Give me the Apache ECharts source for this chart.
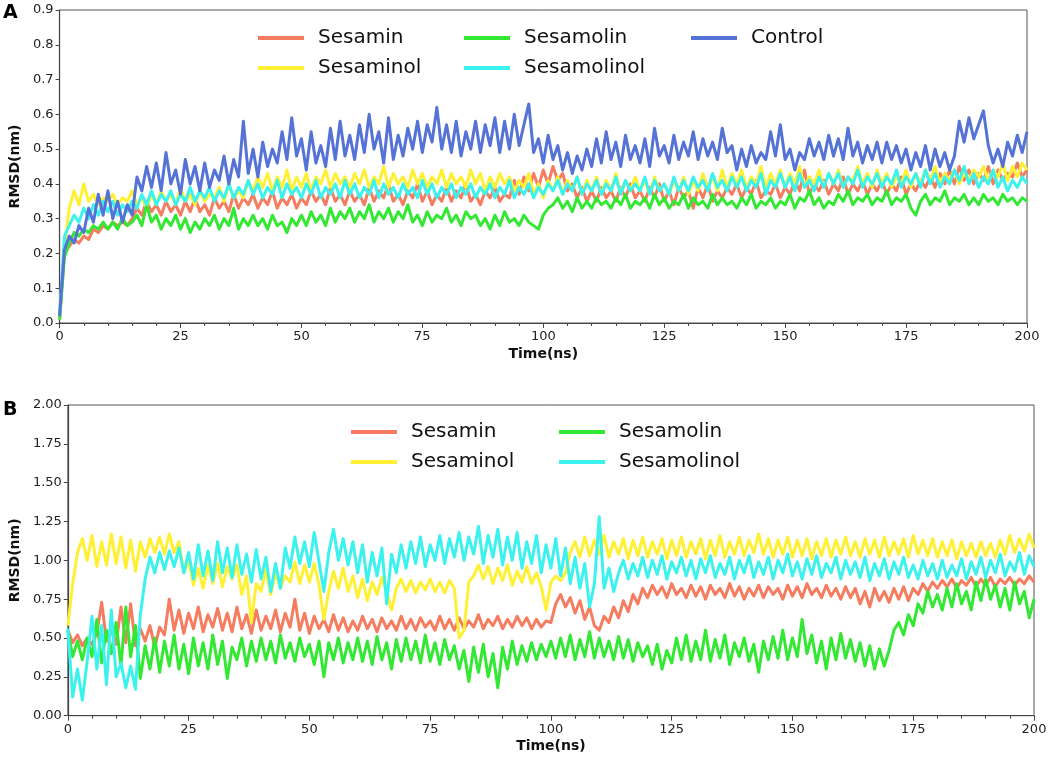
<!DOCTYPE html>
<html>
<head>
<meta charset="utf-8">
<title>RMSD</title>
<script src="https://cdn.jsdelivr.net/npm/echarts@6/dist/echarts.min.js"></script>
<style>
  html, body { margin: 0; padding: 0; background: #fff; }
  #chart { width: 1052px; height: 765px; }
</style>
</head>
<body>
<div id="chart"></div>
<script>
// sampling grid, 1 ns steps
var timeNs = [];
for (var t = 0; t <= 200; t++) timeNs.push(t);

var xTicks = [0, 25, 50, 75, 100, 125, 150, 175, 200];
var yTicksA = [0.0, 0.1, 0.2, 0.3, 0.4, 0.5, 0.6, 0.7, 0.8, 0.9];
var yTicksB = [0.00, 0.25, 0.50, 0.75, 1.00, 1.25, 1.50, 1.75, 2.00];

var namesA = ["Sesamin", "Sesaminol", "Sesamolin", "Sesamolinol", "Control"];
var namesB = ["Sesamin", "Sesaminol", "Sesamolin", "Sesamolinol"];

// panel A (nm)
var aSesamin = [
  0.01, 0.20, 0.22, 0.24, 0.23, 0.25, 0.24, 0.27, 0.26, 0.28,
  0.27, 0.29, 0.28, 0.29, 0.28, 0.30, 0.33, 0.31, 0.35, 0.32,
  0.34, 0.31, 0.35, 0.32, 0.34, 0.31, 0.35, 0.32, 0.36, 0.32,
  0.34, 0.31, 0.36, 0.33, 0.35, 0.32, 0.37, 0.33, 0.36, 0.34,
  0.37, 0.33, 0.36, 0.34, 0.38, 0.33, 0.36, 0.34, 0.37, 0.33,
  0.36, 0.34, 0.38, 0.35, 0.37, 0.34, 0.39, 0.35, 0.37, 0.34,
  0.38, 0.35, 0.37, 0.34, 0.39, 0.35, 0.38, 0.36, 0.40, 0.35,
  0.37, 0.34, 0.38, 0.36, 0.40, 0.35, 0.38, 0.34, 0.37, 0.35,
  0.39, 0.35, 0.38, 0.36, 0.40, 0.35, 0.37, 0.34, 0.38, 0.36,
  0.39, 0.35, 0.37, 0.36, 0.41, 0.37, 0.42, 0.38, 0.43, 0.39,
  0.44, 0.40, 0.45, 0.41, 0.43, 0.38, 0.40, 0.36, 0.39, 0.35,
  0.38, 0.35, 0.39, 0.36, 0.38, 0.35, 0.39, 0.36, 0.40, 0.36,
  0.38, 0.35, 0.39, 0.36, 0.40, 0.35, 0.38, 0.34, 0.39, 0.36,
  0.38, 0.33, 0.39, 0.36, 0.40, 0.35, 0.38, 0.36, 0.39, 0.37,
  0.40, 0.36, 0.39, 0.37, 0.41, 0.36, 0.38, 0.37, 0.40, 0.36,
  0.39, 0.37, 0.41, 0.38, 0.44, 0.37, 0.40, 0.38, 0.41, 0.37,
  0.40, 0.38, 0.42, 0.37, 0.40, 0.38, 0.41, 0.37, 0.40, 0.38,
  0.41, 0.37, 0.40, 0.38, 0.42, 0.37, 0.40, 0.38, 0.41, 0.39,
  0.42, 0.39, 0.43, 0.40, 0.44, 0.40, 0.45, 0.41, 0.44, 0.40,
  0.43, 0.41, 0.45, 0.40, 0.44, 0.41, 0.43, 0.42, 0.46, 0.42,
  0.44
];
var aSesaminol = [
  0.01, 0.22, 0.33, 0.38, 0.34, 0.40, 0.35, 0.37, 0.34, 0.36,
  0.35, 0.37, 0.34, 0.36, 0.35, 0.38, 0.34, 0.36, 0.33, 0.37,
  0.34, 0.38, 0.35, 0.37, 0.34, 0.39, 0.35, 0.37, 0.34, 0.38,
  0.35, 0.37, 0.36, 0.39, 0.35, 0.40, 0.36, 0.38, 0.36, 0.41,
  0.38, 0.42, 0.39, 0.43, 0.38, 0.42, 0.39, 0.44, 0.38, 0.42,
  0.39, 0.43, 0.38, 0.42, 0.40, 0.44, 0.39, 0.43, 0.40, 0.42,
  0.39, 0.43, 0.40, 0.44, 0.39, 0.42, 0.40, 0.45, 0.39, 0.43,
  0.40, 0.42, 0.39, 0.44, 0.40, 0.43, 0.39, 0.42, 0.40, 0.44,
  0.39, 0.43, 0.40, 0.42, 0.39, 0.44, 0.40, 0.43, 0.38, 0.42,
  0.39, 0.43, 0.40, 0.42, 0.38, 0.41, 0.39, 0.43, 0.37, 0.40,
  0.36, 0.41, 0.38, 0.42, 0.37, 0.41, 0.38, 0.42, 0.37, 0.41,
  0.38, 0.42, 0.37, 0.41, 0.38, 0.43, 0.37, 0.41, 0.38, 0.42,
  0.38, 0.41, 0.37, 0.42, 0.38, 0.40, 0.37, 0.41, 0.38, 0.42,
  0.37, 0.41, 0.38, 0.43, 0.39, 0.42, 0.38, 0.44, 0.39, 0.43,
  0.40, 0.44, 0.39, 0.42, 0.40, 0.45, 0.39, 0.43, 0.40, 0.44,
  0.39, 0.43, 0.40, 0.45, 0.39, 0.42, 0.40, 0.44, 0.39, 0.43,
  0.40, 0.44, 0.39, 0.42, 0.41, 0.45, 0.40, 0.43, 0.39, 0.44,
  0.40, 0.43, 0.39, 0.42, 0.40, 0.44, 0.39, 0.43, 0.40, 0.44,
  0.41, 0.45, 0.40, 0.43, 0.41, 0.44, 0.40, 0.43, 0.41, 0.44,
  0.42, 0.45, 0.41, 0.44, 0.42, 0.46, 0.41, 0.45, 0.42, 0.46,
  0.44
];
var aSesamolin = [
  0.01, 0.19, 0.23, 0.26, 0.25, 0.27, 0.26, 0.28, 0.27, 0.29,
  0.27, 0.29, 0.27, 0.30, 0.28, 0.29, 0.31, 0.28, 0.34, 0.29,
  0.31, 0.27, 0.30, 0.28, 0.31, 0.27, 0.30, 0.26, 0.29, 0.27,
  0.30, 0.28, 0.31, 0.27, 0.30, 0.28, 0.33, 0.27, 0.30, 0.28,
  0.31, 0.28, 0.30, 0.27, 0.31, 0.28, 0.29, 0.26, 0.30, 0.28,
  0.31, 0.28, 0.32, 0.29, 0.31, 0.28, 0.33, 0.29, 0.32, 0.30,
  0.33, 0.29, 0.32, 0.30, 0.34, 0.29, 0.32, 0.30, 0.33, 0.29,
  0.32, 0.30, 0.34, 0.29, 0.31, 0.28, 0.32, 0.29, 0.31, 0.30,
  0.33, 0.29, 0.31, 0.28, 0.32, 0.30, 0.31, 0.28, 0.30, 0.27,
  0.31, 0.28, 0.32, 0.29, 0.30, 0.28, 0.31, 0.29, 0.28, 0.27,
  0.31, 0.33, 0.34, 0.36, 0.33, 0.35, 0.32, 0.36, 0.33, 0.35,
  0.33, 0.36, 0.34, 0.35, 0.33, 0.36, 0.34, 0.37, 0.33, 0.35,
  0.34, 0.36, 0.33, 0.37, 0.34, 0.36, 0.33, 0.35, 0.34, 0.37,
  0.33, 0.36, 0.34, 0.35, 0.33, 0.37, 0.34, 0.36, 0.34, 0.35,
  0.33, 0.36, 0.34, 0.37, 0.33, 0.35, 0.34, 0.36, 0.33, 0.35,
  0.34, 0.37, 0.33, 0.36, 0.35, 0.38, 0.34, 0.36, 0.33, 0.35,
  0.34, 0.37, 0.35, 0.38, 0.34, 0.36, 0.35, 0.37, 0.34, 0.36,
  0.35, 0.38, 0.34, 0.36, 0.35, 0.37, 0.33, 0.31, 0.35, 0.37,
  0.34, 0.36, 0.35, 0.38, 0.34, 0.36, 0.35, 0.37, 0.34, 0.36,
  0.34, 0.37, 0.35, 0.36, 0.34, 0.37, 0.35, 0.36, 0.34, 0.36,
  0.35
];
var aSesamolinol = [
  0.02, 0.25, 0.28, 0.31, 0.29, 0.33, 0.30, 0.34, 0.31, 0.35,
  0.32, 0.35, 0.31, 0.34, 0.32, 0.35, 0.33, 0.37, 0.34, 0.38,
  0.34, 0.37, 0.35, 0.38, 0.34, 0.37, 0.35, 0.39, 0.35, 0.38,
  0.36, 0.39, 0.35, 0.38, 0.36, 0.40, 0.36, 0.39, 0.37, 0.41,
  0.37, 0.40, 0.36, 0.39, 0.37, 0.41, 0.36, 0.40, 0.37, 0.39,
  0.36, 0.40, 0.37, 0.41, 0.36, 0.39, 0.37, 0.40, 0.36, 0.41,
  0.37, 0.40, 0.36, 0.39, 0.37, 0.41, 0.36, 0.40, 0.37, 0.39,
  0.36, 0.40, 0.37, 0.39, 0.36, 0.41, 0.37, 0.40, 0.36, 0.39,
  0.37, 0.40, 0.36, 0.39, 0.37, 0.40, 0.36, 0.39, 0.37, 0.40,
  0.36, 0.39, 0.37, 0.41, 0.36, 0.39, 0.37, 0.40, 0.36, 0.39,
  0.37, 0.40, 0.38, 0.41, 0.37, 0.40, 0.38, 0.42, 0.37, 0.40,
  0.38, 0.41, 0.37, 0.40, 0.38, 0.42, 0.37, 0.41, 0.38, 0.40,
  0.38, 0.42, 0.37, 0.41, 0.38, 0.40, 0.37, 0.42, 0.38, 0.41,
  0.38, 0.42, 0.39, 0.41, 0.38, 0.43, 0.39, 0.41, 0.38, 0.42,
  0.39, 0.42, 0.38, 0.41, 0.39, 0.43, 0.37, 0.41, 0.39, 0.43,
  0.39, 0.42, 0.38, 0.43, 0.39, 0.41, 0.38, 0.42, 0.39, 0.43,
  0.40, 0.43, 0.39, 0.42, 0.40, 0.44, 0.39, 0.42, 0.40, 0.43,
  0.39, 0.42, 0.40, 0.44, 0.39, 0.42, 0.40, 0.43, 0.39, 0.44,
  0.40, 0.43, 0.39, 0.42, 0.40, 0.44, 0.41, 0.45, 0.40, 0.43,
  0.39, 0.42, 0.40, 0.44, 0.39, 0.42, 0.38, 0.41, 0.39, 0.42,
  0.40
];
var aControl = [
  0.02, 0.21, 0.25, 0.23, 0.28, 0.26, 0.33, 0.29, 0.37, 0.31,
  0.38, 0.30, 0.35, 0.29, 0.34, 0.31, 0.42, 0.38, 0.45, 0.39,
  0.46, 0.38, 0.49, 0.40, 0.44, 0.37, 0.47, 0.40, 0.45, 0.38,
  0.46, 0.39, 0.44, 0.41, 0.48, 0.40, 0.47, 0.42, 0.58, 0.43,
  0.50, 0.42, 0.52, 0.45, 0.50, 0.46, 0.55, 0.47, 0.59, 0.48,
  0.53, 0.44, 0.55, 0.46, 0.51, 0.45, 0.56, 0.47, 0.58, 0.48,
  0.54, 0.47, 0.57, 0.49, 0.60, 0.50, 0.55, 0.46, 0.59, 0.47,
  0.54, 0.48, 0.56, 0.50, 0.58, 0.49, 0.57, 0.52, 0.62, 0.50,
  0.57, 0.49, 0.58, 0.48, 0.55, 0.50, 0.58, 0.49, 0.57, 0.51,
  0.59, 0.49, 0.58, 0.50, 0.60, 0.51, 0.57, 0.63, 0.49, 0.53,
  0.46, 0.54, 0.47, 0.51, 0.44, 0.49, 0.43, 0.48, 0.44, 0.50,
  0.45, 0.53, 0.46, 0.55, 0.47, 0.52, 0.45, 0.54, 0.47, 0.51,
  0.46, 0.53, 0.45, 0.56, 0.48, 0.51, 0.46, 0.54, 0.47, 0.52,
  0.48, 0.55, 0.47, 0.53, 0.48, 0.52, 0.47, 0.56, 0.49, 0.51,
  0.44, 0.50, 0.45, 0.51, 0.46, 0.49, 0.47, 0.55, 0.48, 0.57,
  0.47, 0.50, 0.44, 0.49, 0.47, 0.53, 0.48, 0.52, 0.47, 0.54,
  0.48, 0.53, 0.47, 0.56, 0.48, 0.52, 0.46, 0.51, 0.47, 0.52,
  0.46, 0.52, 0.47, 0.51, 0.46, 0.50, 0.44, 0.49, 0.45, 0.51,
  0.44, 0.50, 0.45, 0.49, 0.44, 0.48, 0.58, 0.52, 0.59, 0.53,
  0.57, 0.61, 0.51, 0.46, 0.50, 0.45, 0.52, 0.48, 0.54, 0.49,
  0.55
];

// panel B
var bSesamin = [
  0.55, 0.47, 0.52, 0.45, 0.50, 0.46, 0.53, 0.73, 0.48, 0.55,
  0.46, 0.70, 0.47, 0.72, 0.45, 0.56, 0.48, 0.58, 0.44, 0.57,
  0.52, 0.75, 0.55, 0.68, 0.53, 0.66, 0.56, 0.70, 0.54, 0.65,
  0.57, 0.69, 0.55, 0.66, 0.54, 0.70, 0.56, 0.65, 0.53, 0.68,
  0.55, 0.64, 0.56, 0.68, 0.54, 0.66, 0.57, 0.75, 0.55, 0.66,
  0.53, 0.64, 0.56, 0.62, 0.54, 0.65, 0.55, 0.63, 0.54, 0.61,
  0.55, 0.64, 0.56, 0.62, 0.54, 0.63, 0.56, 0.61, 0.55, 0.64,
  0.56, 0.62, 0.55, 0.63, 0.57, 0.61, 0.55, 0.64, 0.56, 0.62,
  0.55, 0.63, 0.56, 0.61, 0.57, 0.65, 0.56, 0.62, 0.58, 0.64,
  0.56, 0.62, 0.57, 0.64, 0.58, 0.63, 0.56, 0.62, 0.57, 0.61,
  0.60, 0.72, 0.78, 0.70, 0.76, 0.66, 0.74, 0.62, 0.70, 0.58,
  0.55, 0.64, 0.60, 0.70, 0.63, 0.74, 0.67, 0.78, 0.72, 0.82,
  0.76, 0.84, 0.78, 0.83, 0.76, 0.85, 0.78, 0.82, 0.76, 0.84,
  0.77, 0.83, 0.75, 0.84, 0.78, 0.82, 0.76, 0.85, 0.77, 0.83,
  0.75, 0.82, 0.77, 0.84, 0.76, 0.83, 0.78, 0.82, 0.75, 0.84,
  0.77, 0.83, 0.76, 0.85, 0.78, 0.82, 0.76, 0.84, 0.77, 0.82,
  0.75, 0.83, 0.76, 0.82, 0.72, 0.80, 0.70, 0.82, 0.74, 0.80,
  0.73, 0.82, 0.75, 0.83, 0.74, 0.82, 0.78, 0.85, 0.80, 0.86,
  0.82, 0.87, 0.83, 0.88, 0.82, 0.87, 0.84, 0.89, 0.83, 0.88,
  0.84, 0.89, 0.83, 0.88, 0.85, 0.89, 0.84, 0.88, 0.85, 0.90,
  0.86
];
var bSesaminol = [
  0.58, 0.85, 1.05, 1.14, 1.00, 1.16, 0.96, 1.12, 0.97, 1.17,
  0.98, 1.15, 0.95, 1.13, 0.93, 1.12, 1.02, 1.14, 1.05, 1.15,
  1.04, 1.17, 1.05, 1.12, 0.92, 1.00, 0.84, 0.95, 0.82, 0.97,
  0.85, 0.98, 0.83, 0.96, 0.88, 0.97, 0.78, 0.90, 0.60, 0.85,
  0.80, 0.94, 0.78, 0.92, 0.82, 0.90, 0.86, 0.99, 0.85, 0.97,
  0.86, 0.98, 0.84, 0.62, 0.80, 0.93, 0.82, 0.95, 0.80, 0.90,
  0.76, 0.88, 0.74, 0.86, 0.78, 0.89, 0.80, 0.68, 0.82, 0.88,
  0.80, 0.87, 0.79, 0.86, 0.81, 0.88, 0.80, 0.86, 0.79, 0.87,
  0.82, 0.50, 0.55, 0.86, 0.90, 0.97, 0.88, 0.96, 0.85, 0.95,
  0.87, 0.97, 0.84, 0.93, 0.86, 0.96, 0.85, 0.92, 0.83, 0.68,
  0.86, 0.90, 0.87, 0.92, 1.05, 1.12, 1.02, 1.15, 1.03, 1.13,
  1.04, 1.16, 1.02, 1.12, 1.04, 1.14, 1.01, 1.13, 1.03, 1.15,
  1.02, 1.12, 1.04, 1.14, 1.01, 1.13, 1.03, 1.15, 1.02, 1.12,
  1.04, 1.14, 1.01, 1.13, 1.03, 1.16, 1.02, 1.12, 1.04, 1.15,
  1.03, 1.13, 1.05, 1.17, 1.04, 1.14, 1.02, 1.13, 1.04, 1.15,
  1.02, 1.13, 1.03, 1.14, 1.01, 1.12, 1.03, 1.14, 1.02, 1.13,
  1.04, 1.15, 1.03, 1.12, 1.02, 1.14, 1.04, 1.13, 1.02, 1.15,
  1.03, 1.12, 1.04, 1.14, 1.02, 1.16, 1.04, 1.13, 1.03, 1.14,
  1.02, 1.12, 1.03, 1.13, 1.01, 1.12, 1.03, 1.11, 1.02, 1.12,
  1.03, 1.11, 1.02, 1.13, 1.04, 1.16, 1.05, 1.14, 1.06, 1.17,
  1.08
];
var bSesamolin = [
  0.55, 0.38, 0.48, 0.36, 0.50, 0.38, 0.62, 0.34, 0.55, 0.40,
  0.60, 0.32, 0.70, 0.38, 0.58, 0.24, 0.45, 0.30, 0.50, 0.28,
  0.48, 0.32, 0.52, 0.30, 0.46, 0.27, 0.50, 0.32, 0.47, 0.30,
  0.52, 0.33, 0.48, 0.24, 0.44, 0.36, 0.50, 0.32, 0.48, 0.35,
  0.50, 0.36, 0.48, 0.34, 0.52, 0.37, 0.47, 0.35, 0.50, 0.38,
  0.46, 0.33, 0.48, 0.25, 0.47, 0.36, 0.50, 0.34, 0.47, 0.36,
  0.50, 0.35, 0.48, 0.33, 0.51, 0.36, 0.47, 0.30, 0.49, 0.35,
  0.50, 0.36, 0.48, 0.34, 0.52, 0.35, 0.47, 0.33, 0.49, 0.36,
  0.45, 0.30, 0.42, 0.22, 0.44, 0.28, 0.46, 0.25, 0.40, 0.18,
  0.44, 0.30, 0.48, 0.33, 0.45, 0.35, 0.47, 0.36, 0.46, 0.38,
  0.48, 0.37, 0.50, 0.38, 0.52, 0.36, 0.49, 0.38, 0.54, 0.37,
  0.50, 0.38, 0.48, 0.36, 0.51, 0.37, 0.49, 0.35, 0.47, 0.38,
  0.45, 0.33, 0.46, 0.30, 0.42, 0.34, 0.50, 0.36, 0.52, 0.35,
  0.48, 0.36, 0.55, 0.35, 0.49, 0.37, 0.52, 0.33, 0.47, 0.38,
  0.50, 0.35, 0.46, 0.28, 0.48, 0.36, 0.51, 0.37, 0.55, 0.36,
  0.50, 0.38, 0.62, 0.40, 0.52, 0.34, 0.48, 0.30, 0.50, 0.36,
  0.53, 0.37, 0.49, 0.35, 0.47, 0.32, 0.45, 0.30, 0.43, 0.32,
  0.42, 0.55, 0.60, 0.52, 0.65, 0.58, 0.72, 0.66, 0.80, 0.70,
  0.78, 0.68, 0.82, 0.70, 0.85, 0.72, 0.80, 0.68, 0.86, 0.74,
  0.88, 0.75, 0.84, 0.70, 0.82, 0.68, 0.86, 0.72, 0.80, 0.63,
  0.75
];
var bSesamolinol = [
  0.56, 0.12, 0.30, 0.10, 0.35, 0.64, 0.30, 0.58, 0.20, 0.68,
  0.25, 0.34, 0.18, 0.32, 0.17, 0.65, 0.88, 1.02, 0.92, 1.05,
  0.94, 1.06, 0.96, 1.08, 0.92, 1.05, 0.88, 1.10, 0.90, 1.06,
  0.87, 1.12, 0.92, 1.08, 0.89, 1.10, 0.91, 1.04, 0.86, 1.07,
  0.88, 1.02, 0.80, 0.98, 0.82, 1.08, 0.95, 1.15, 0.98, 1.12,
  0.96, 1.18, 0.99, 0.80, 1.05, 1.20, 1.00, 1.14, 0.97, 1.12,
  0.92, 1.10, 0.86, 1.05, 0.90, 1.08, 0.72, 1.04, 0.92, 1.10,
  0.95, 1.12, 0.98, 1.15, 0.96, 1.10, 1.00, 1.16, 0.98, 1.14,
  1.02, 1.18, 1.00, 1.15, 1.04, 1.22, 0.98, 1.16, 1.02, 1.20,
  0.97, 1.15, 1.00, 1.18, 0.95, 1.12, 0.98, 1.16, 0.92, 1.10,
  0.95, 1.14, 0.90, 1.08, 0.85, 1.02, 0.82, 0.98, 0.70, 0.85,
  1.28, 0.82, 0.95, 0.80, 0.92, 1.00, 0.88, 0.98, 0.90, 1.02,
  0.89, 1.00, 0.91, 1.03, 0.88, 0.99, 0.92, 1.02, 0.90, 1.00,
  0.88, 1.01, 0.92, 1.03, 0.89, 0.98, 0.91, 1.02, 0.88, 1.00,
  0.92, 1.03, 0.89, 0.99, 0.91, 1.02, 0.88, 1.00, 0.92, 1.04,
  0.90, 0.99, 0.88, 1.01, 0.91, 1.03, 0.89, 0.98, 0.92, 1.02,
  0.88, 1.00, 0.91, 0.99, 0.89, 1.02, 0.87, 0.98, 0.90, 1.01,
  0.88, 0.99, 0.91, 1.02, 0.89, 0.97, 0.88, 1.00, 0.90, 0.98,
  0.88, 1.00, 0.89, 0.97, 0.90, 1.01, 0.88, 0.99, 0.91, 1.02,
  0.89, 1.00, 0.92, 1.04, 0.90, 0.99, 0.93, 1.05, 0.91, 1.03,
  0.96
];

var colors = {
  Sesamin: "#F67C5F",
  Sesaminol: "#FFF033",
  Sesamolin: "#33E833",
  Sesamolinol: "#3CF2EE",
  Control: "#5572D6"
};

var FONT = "DejaVu Sans";

function pairs(values) {
  return values.map(function (v, i) { return [timeNs[i], v]; });
}

function lineSeries(name, values, idx) {
  return {
    name: name,
    type: "line",
    xAxisIndex: idx,
    yAxisIndex: idx,
    data: pairs(values),
    showSymbol: false,
    symbol: "none",
    animation: false,
    lineStyle: { width: 3, color: colors[name], join: "round" },
    itemStyle: { color: colors[name] },
    emphasis: { disabled: true }
  };
}

function xAxis(idx) {
  return {
    type: "value",
    gridIndex: idx,
    min: xTicks[0],
    max: xTicks[xTicks.length - 1],
    interval: 25,
    name: "Time(ns)",
    nameLocation: "middle",
    nameGap: 24,
    nameTextStyle: { fontFamily: FONT, fontSize: 14, fontWeight: "bold", color: "#111" },
    axisLine: { show: true, lineStyle: { color: "#444", width: 1.2 } },
    axisTick: { show: true, length: 5, lineStyle: { color: "#444" } },
    minorTick: { show: true, splitNumber: 5, length: 3, lineStyle: { color: "#444" } },
    splitLine: { show: false },
    axisLabel: { fontFamily: FONT, fontSize: 13, color: "#222", margin: 7 }
  };
}

function yAxis(idx, ticks, digits, gap) {
  return {
    type: "value",
    gridIndex: idx,
    min: ticks[0],
    max: ticks[ticks.length - 1],
    interval: ticks[1] - ticks[0],
    name: "RMSD(nm)",
    nameLocation: "middle",
    nameGap: gap,
    nameTextStyle: { fontFamily: FONT, fontSize: 14, fontWeight: "bold", color: "#111" },
    axisLine: { show: true, lineStyle: { color: "#444", width: 1.2 } },
    axisTick: { show: true, length: 4, lineStyle: { color: "#444" } },
    splitLine: { show: false },
    axisLabel: {
      fontFamily: FONT, fontSize: 13, color: "#222", margin: 6,
      formatter: function (v) { return v.toFixed(digits); }
    }
  };
}

function legend(names, left, top) {
  return {
    data: names,
    orient: "vertical",
    left: left,
    top: top,
    padding: 0,
    itemGap: 10,
    itemWidth: 46,
    itemHeight: 4,
    icon: "rect",
    selectedMode: false,
    textStyle: { fontFamily: FONT, fontSize: 20, color: "#111", lineHeight: 20, padding: [0, 0, 0, 9] }
  };
}

var series = [];
[aSesamin, aSesaminol, aSesamolin, aSesamolinol, aControl].forEach(function (vals, i) {
  series.push(lineSeries(namesA[i], vals, 0));
});
[bSesamin, bSesaminol, bSesamolin, bSesamolinol].forEach(function (vals, i) {
  series.push(lineSeries(namesB[i], vals, 1));
});

var chart = echarts.init(document.getElementById("chart"));
chart.setOption({
  backgroundColor: "#fff",
  animation: false,
  title: [
    { text: "A", left: 3, top: 4, padding: 0, textStyle: { fontFamily: FONT, fontSize: 19, fontWeight: "bold", color: "#000" } },
    { text: "B", left: 3, top: 401, padding: 0, textStyle: { fontFamily: FONT, fontSize: 19, fontWeight: "bold", color: "#000" } }
  ],
  grid: [
    { left: 59, top: 10, width: 968, height: 313, show: true, borderColor: "#555", borderWidth: 1, backgroundColor: "transparent" },
    { left: 63.5, top: 405, width: 970.5, height: 310.7, show: true, borderColor: "#555", borderWidth: 1, backgroundColor: "transparent" }
  ],
  legend: [
    legend(["Sesamin", "Sesaminol"], 258, 28),
    legend(["Sesamolin", "Sesamolinol"], 464, 28),
    legend(["Control"], 691, 28),
    legend(["Sesamin", "Sesaminol"], 351, 422),
    legend(["Sesamolin", "Sesamolinol"], 559, 422)
  ],
  xAxis: [xAxis(0), xAxis(1)],
  yAxis: [yAxis(0, yTicksA, 1, 37), yAxis(1, yTicksB, 2, 43)],
  series: series
});
</script>
</body>
</html>
